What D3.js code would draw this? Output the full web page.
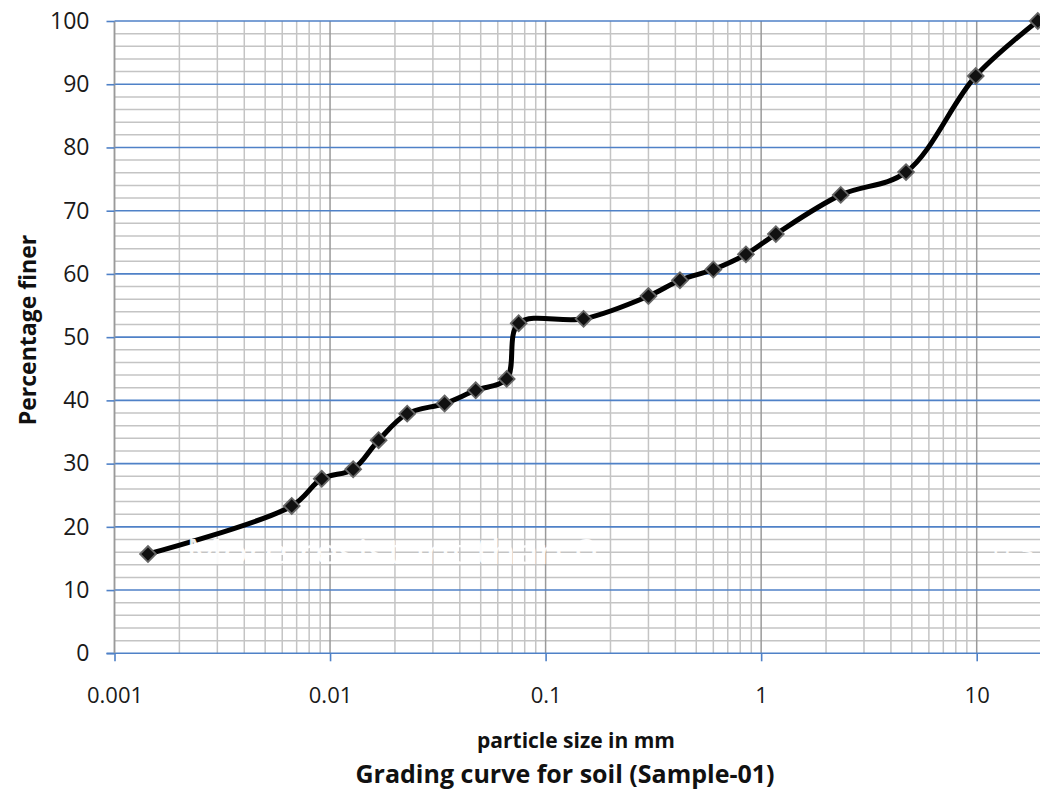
<!DOCTYPE html>
<html>
<head>
<meta charset="utf-8">
<script src="https://cdn.jsdelivr.net/npm/d3@7"></script>
<style>
  html, body { margin: 0; padding: 0; background: #fff; }
  svg { display: block; font-family: "Open Sans", "Liberation Sans", sans-serif; }
</style>
</head>
<body>
<svg id="chart" width="1040" height="790"></svg>
<script>
// ---- data ----
const particleSize = [0.00143, 0.00664, 0.00915, 0.0128, 0.0168, 0.0228, 0.034, 0.0474, 0.066, 0.075,
                      0.15, 0.3, 0.42, 0.6, 0.85, 1.17, 2.34, 4.7, 9.9, 19.2];
const percentFiner = [15.7, 23.3, 27.6, 29.1, 33.7, 37.9, 39.5, 41.6, 43.4, 52.2,
                      52.9, 56.5, 59.0, 60.7, 63.1, 66.3, 72.5, 76.1, 91.3, 100];
const xTickValues = [0.001, 0.01, 0.1, 1, 10];
const xTickLabels = ["0.001", "0.01", "0.1", "1", "10"];
const yTickValues = [0, 10, 20, 30, 40, 50, 60, 70, 80, 90, 100];
const xTitle = "particle size in mm";
const yTitle = "Percentage finer";
const chartTitle = "Grading curve for soil (Sample-01)";
const watermark1 = "More resistant than 0";
const watermark2 = "0.3";

// ---- layout ----
const svg = d3.select("#chart");
const left = 114.5, decade = 215.55;
const xDomain = [0.001, 20];
const x = d3.scaleLog().domain(xDomain)
  .range([left, left + decade * Math.log10(xDomain[1] / xDomain[0])]);
const y = d3.scaleLinear().domain([0, 100]).range([653.3, 21]);

const gGrid = svg.append("g");

// minor vertical grid lines
const minorX = [];
for (let e = -3; e <= 1; e++) {
  for (let m = 2; m <= 9; m++) {
    const v = m * Math.pow(10, e);
    if (v < xDomain[1]) minorX.push(v);
  }
}
gGrid.selectAll("line.vmin").data(minorX).enter().append("line")
  .attr("x1", d => x(d)).attr("x2", d => x(d))
  .attr("y1", y(0)).attr("y2", y(100))
  .attr("stroke", "#c4c4c4").attr("stroke-width", 1.5);

// minor horizontal grid lines (every 2)
const minorY = d3.range(2, 100, 2).filter(d => d % 10 !== 0);
gGrid.selectAll("line.hmin").data(minorY).enter().append("line")
  .attr("x1", x(xDomain[0])).attr("x2", x(xDomain[1]))
  .attr("y1", d => y(d)).attr("y2", d => y(d))
  .attr("stroke", "#c4c4c4").attr("stroke-width", 1.5);

// major vertical (decades)
gGrid.selectAll("line.vmaj").data(xTickValues).enter().append("line")
  .attr("x1", d => x(d)).attr("x2", d => x(d))
  .attr("y1", y(0)).attr("y2", y(100))
  .attr("stroke", "#9a9a9a").attr("stroke-width", 1.5);

// major horizontal (blue)
gGrid.selectAll("line.hmaj").data(yTickValues.filter(d => d > 0)).enter().append("line")
  .attr("x1", x(xDomain[0])).attr("x2", x(xDomain[1]))
  .attr("y1", d => y(d)).attr("y2", d => y(d))
  .attr("stroke", "#4f81c7").attr("stroke-width", 1.6);

// ---- axes ----
const xAxis = d3.axisBottom(x).tickValues(xTickValues)
  .tickFormat((d, i) => xTickLabels[i]).tickSize(8).tickPadding(26);
const gx = svg.append("g").attr("transform", `translate(0,${y(0)})`).call(xAxis);
gx.select(".domain").attr("stroke", "#4f81c7").attr("stroke-width", 1.6)
  .attr("d", `M${x(xDomain[0]) - 8},0H${x(xDomain[1])}`);
gx.selectAll(".tick line").attr("stroke", "#4f81c7").attr("stroke-width", 1.6);
gx.selectAll(".tick text").attr("font-size", 22).attr("fill", "#1a1a1a")
  .attr("font-family", "'Open Sans', sans-serif");

const yAxis = d3.axisLeft(y).tickValues(yTickValues).tickSize(8).tickPadding(17);
const gy = svg.append("g").attr("transform", `translate(${x(xDomain[0])},0)`).call(yAxis);
gy.select(".domain").attr("stroke", "#9a9a9a").attr("stroke-width", 1.5)
  .attr("d", `M0,${y(0)}V${y(100)}`);
gy.selectAll(".tick line").attr("stroke", "#4f81c7").attr("stroke-width", 1.6);
gy.selectAll(".tick text").attr("font-size", 23).attr("fill", "#1a1a1a")
  .attr("font-family", "'Open Sans', sans-serif");

// ---- curve ----
const pts = particleSize.map((d, i) => [d, percentFiner[i]]);
const line = d3.line().x(d => x(d[0])).y(d => y(d[1]))
  .curve(d3.curveCatmullRom.alpha(0.5));
svg.append("path").datum(pts).attr("d", line)
  .attr("fill", "none").attr("stroke", "#000").attr("stroke-width", 5)
  .attr("stroke-linejoin", "round").attr("stroke-linecap", "round");

const diamond = d3.symbol().type(d3.symbolSquare).size(125);
svg.selectAll("path.marker").data(pts).enter().append("path")
  .attr("class", "marker")
  .attr("d", diamond)
  .attr("transform", d => `translate(${x(d[0])},${y(d[1])}) rotate(45)`)
  .attr("fill", "#111").attr("stroke", "#666").attr("stroke-width", 1.8);

// ---- titles ----
svg.append("text").attr("x", 576).attr("y", 748).attr("text-anchor", "middle")
  .attr("font-size", 21).attr("font-weight", "bold").attr("fill", "#111").text(xTitle);
svg.append("text").attr("transform", "translate(36,330) rotate(-90)")
  .attr("text-anchor", "middle").attr("font-size", 23).attr("font-weight", "bold")
  .attr("fill", "#111").text(yTitle);
svg.append("text").attr("x", 565).attr("y", 783).attr("text-anchor", "middle")
  .attr("font-size", 25).attr("font-weight", "bold").attr("fill", "#111").text(chartTitle);

// ---- watermark ----
svg.append("text").attr("x", 186).attr("y", 564)
  .attr("font-size", 34).attr("fill", "#fff").attr("opacity", 0.92)
  .attr("textLength", 412).attr("lengthAdjust", "spacingAndGlyphs")
  .text(watermark1);
svg.append("text").attr("x", 993).attr("y", 562)
  .attr("font-size", 30).attr("fill", "#fff").attr("opacity", 0.92)
  .text(watermark2);
</script>
</body>
</html>
